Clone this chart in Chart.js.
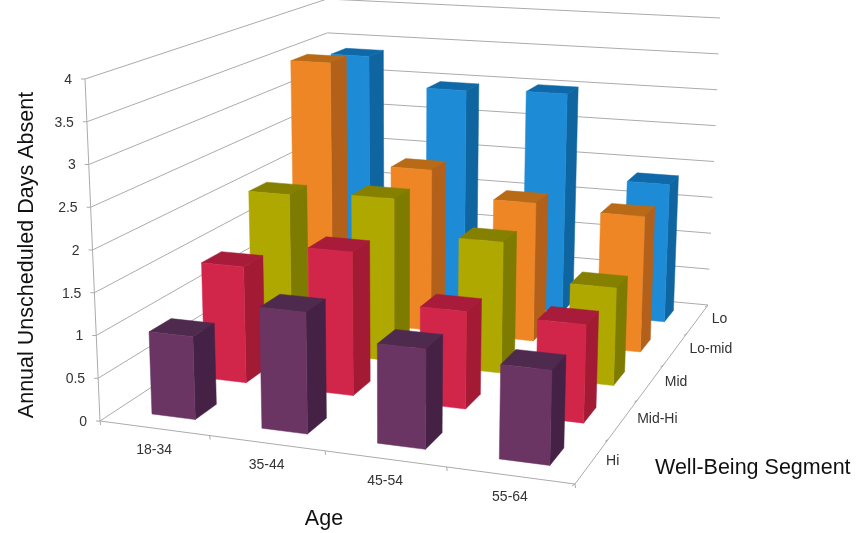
<!DOCTYPE html>
<html>
<head>
<meta charset="utf-8">
<title>Annual Unscheduled Days Absent</title>
<script src="https://cdn.jsdelivr.net/npm/chart.js@4"></script>
<style>
  html, body { margin: 0; padding: 0; background: #fff; }
  canvas { display: block; }
</style>
</head>
<body>
<canvas id="absenceChart" width="857" height="533"></canvas>
<script>
const ageGroups = ['18-34', '35-44', '45-54', '55-64'];
const segments = ['Hi', 'Mid-Hi', 'Mid', 'Lo-mid', 'Lo'];
const dayTicks = [0, 0.5, 1, 1.5, 2, 2.5, 3, 3.5, 4];

const hiDays = [0.97, 1.4, 1.13, 1.05];
const midHiDays = [1.43, 1.74, 1.16, 1.15];
const midDays = [2.01, 2.07, 1.64, 1.2];
const loMidDays = [3.49, 2.14, 1.81, 1.75];
const loDays = [3.36, 2.96, 3.0, 1.86];

// Box the bars stand in: front-left, front-right, back-right, back-left
const floorCorners = [[100, 421], [575, 484], [708, 305], [330, 270]];
const ceilingCorners = [[85, 79], [584, 113], [720, 18], [327, -1]];
const barShare = 0.4;
const barNudge = 0.006; // bars sit a touch right of their category centre

// Maps the unit square onto a four sided shape
function quadMap(c) {
    const [[x0, y0], [x1, y1], [x2, y2], [x3, y3]] = c;
    const dx1 = x1 - x2, dx2 = x3 - x2, sx = x0 - x1 + x2 - x3;
    const dy1 = y1 - y2, dy2 = y3 - y2, sy = y0 - y1 + y2 - y3;
    const den = dx1 * dy2 - dx2 * dy1;
    const g = (sx * dy2 - dx2 * sy) / den;
    const h = (dx1 * sy - sx * dy1) / den;
    return (u, v) => {
        const w = 1 + g * u + h * v;
        return [
            (x0 + (x1 - x0 + g * x1) * u + (x3 - x0 + h * x3) * v) / w,
            (y0 + (y1 - y0 + g * y1) * u + (y3 - y0 + h * y3) * v) / w
        ];
    };
}

const floorMap = quadMap(floorCorners);
const ceilingMap = quadMap(ceilingCorners);

function project(u, v, h) {
    const a = floorMap(u, v);
    const b = ceilingMap(u, v);
    return [a[0] + (b[0] - a[0]) * h, a[1] + (b[1] - a[1]) * h];
}

function heightShare(scale, value) {
    const zero = scale.getPixelForValue(dayTicks[0]);
    const top = scale.getPixelForValue(dayTicks[dayTicks.length - 1]);
    return (zero - scale.getPixelForValue(value)) / (zero - top);
}

function fillFace(ctx, points, color) {
    ctx.fillStyle = color;
    ctx.strokeStyle = color;
    ctx.lineWidth = 0.5;
    ctx.beginPath();
    points.forEach((p, i) => (i ? ctx.lineTo(p[0], p[1]) : ctx.moveTo(p[0], p[1])));
    ctx.closePath();
    ctx.fill();
    ctx.stroke();
}

function drawPath(ctx, points) {
    ctx.beginPath();
    points.forEach((p, i) => (i ? ctx.lineTo(p[0], p[1]) : ctx.moveTo(p[0], p[1])));
    ctx.stroke();
}

// Bar controller that draws each bar as a box in the projected space
class Bar3DController extends Chart.BarController {
    draw() {
        const chart = this.chart;
        const ctx = chart.ctx;
        const xScale = chart.scales.x;
        const yScale = chart.scales.y;
        const depth = chart.scales.depth;
        const ds = this.getDataset();
        const vMid = (depth.getPixelForValue(this.index) - depth.left) / depth.width;
        const vHalf = barShare / segments.length / 2;
        const v0 = vMid - vHalf;
        const v1 = vMid + vHalf;

        this.getMeta().data.forEach((bar, i) => {
            const u0 = (bar.x - bar.width / 2 - xScale.left) / xScale.width + barNudge;
            const u1 = (bar.x + bar.width / 2 - xScale.left) / xScale.width + barNudge;
            const h = heightShare(yScale, this.getParsed(i).y);
            fillFace(ctx, [project(u0, v0, h), project(u1, v0, h), project(u1, v1, h), project(u0, v1, h)], ds.topColor);
            fillFace(ctx, [project(u1, v0, 0), project(u1, v1, 0), project(u1, v1, h), project(u1, v0, h)], ds.sideColor);
            fillFace(ctx, [project(u0, v0, 0), project(u1, v0, 0), project(u1, v0, h), project(u0, v0, h)], ds.backgroundColor);
        });
    }
}
Bar3DController.id = 'bar3d';
Bar3DController.defaults = Chart.BarController.defaults;
Bar3DController.overrides = Chart.BarController.overrides;
Chart.register(Bar3DController);

const boxAxes = {
    id: 'boxAxes',
    beforeDatasetsDraw(chart) {
        const ctx = chart.ctx;
        const y = chart.scales.y;
        ctx.save();
        ctx.strokeStyle = '#ababab';
        ctx.lineWidth = 1;
        dayTicks.forEach(t => {
            const h = heightShare(y, t);
            drawPath(ctx, [project(0, 0, h), project(0, 1, h), project(1, 1, h)]);
            const p = project(0, 0, h);
            drawPath(ctx, [[p[0] - 4, p[1]], p]);
        });
        drawPath(ctx, [project(0, 0, 0), project(0, 0, 1)]);
        drawPath(ctx, [project(0, 0, 0), project(1, 0, 0), project(1, 1, 0)]);
        for (let i = 0; i <= ageGroups.length; i++) {
            const p = project(i / ageGroups.length, 0, 0);
            drawPath(ctx, [p, [p[0] + 0.5, p[1] + 4]]);
        }
        for (let i = 0; i <= segments.length; i++) {
            const p = project(1, i / segments.length, 0);
            drawPath(ctx, [p, [p[0] - 3, p[1] + 2]]);
        }
        ctx.restore();
    },
    afterDraw(chart) {
        const ctx = chart.ctx;
        const { x, y, depth } = chart.scales;
        ctx.save();
        ctx.fillStyle = '#333';
        ctx.font = '14px "Liberation Sans", Arial, sans-serif';
        ctx.textBaseline = 'middle';

        ctx.textAlign = 'right';
        dayTicks.forEach(t => {
            const p = project(0, 0, heightShare(y, t));
            ctx.fillText(String(t), p[0] - 13, p[1] + 1);
        });

        ctx.textAlign = 'center';
        ageGroups.forEach((label, i) => {
            const p = project((x.getPixelForValue(i) - x.left) / x.width, 0, 0);
            ctx.fillText(label, p[0], p[1] + 22);
        });

        ctx.textAlign = 'left';
        segments.forEach((label, i) => {
            const p = project(1, (depth.getPixelForValue(i) - depth.left) / depth.width, 0);
            ctx.fillText(label, p[0] + 14, p[1]);
        });

        // Axis titles
        ctx.fillStyle = '#111';
        ctx.font = '21.5px "Liberation Sans", Arial, sans-serif';
        ctx.textAlign = 'center';
        ctx.fillText('Age', 324, 519);
        ctx.textAlign = 'left';
        ctx.fillText('Well-Being Segment', 655, 468);
        ctx.translate(27, 255);
        ctx.rotate(-Math.PI / 2);
        ctx.textAlign = 'center';
        ctx.fillText('Annual Unscheduled Days Absent', 0, 0);
        ctx.restore();
    }
};

new Chart(document.getElementById('absenceChart'), {
    type: 'bar3d',
    data: {
        labels: ageGroups,
        datasets: [
            { label: segments[0], data: hiDays, backgroundColor: '#6a3563', sideColor: '#452245', topColor: '#4f2a4f' },
            { label: segments[1], data: midHiDays, backgroundColor: '#d1264a', sideColor: '#a31a35', topColor: '#a81b3a' },
            { label: segments[2], data: midDays, backgroundColor: '#aea800', sideColor: '#7d7b00', topColor: '#858000' },
            { label: segments[3], data: loMidDays, backgroundColor: '#ee8626', sideColor: '#b2601a', topColor: '#b96a17' },
            { label: segments[4], data: loDays, backgroundColor: '#1e8bd6', sideColor: '#0f65a0', topColor: '#0f69a8' }
        ]
    },
    options: {
        responsive: false,
        animation: false,
        grouped: false,
        barPercentage: barShare,
        categoryPercentage: 1,
        layout: { padding: 0 },
        plugins: { legend: { display: false }, tooltip: { enabled: false } },
        scales: {
            x: { type: 'category', display: false, offset: true },
            depth: { type: 'category', axis: 'x', labels: segments, display: false, offset: true },
            y: {
                type: 'linear',
                display: false,
                min: dayTicks[0],
                max: dayTicks[dayTicks.length - 1],
                afterBuildTicks: s => { s.ticks = dayTicks.map(v => ({ value: v })); }
            }
        }
    },
    plugins: [boxAxes]
});
</script>
</body>
</html>
